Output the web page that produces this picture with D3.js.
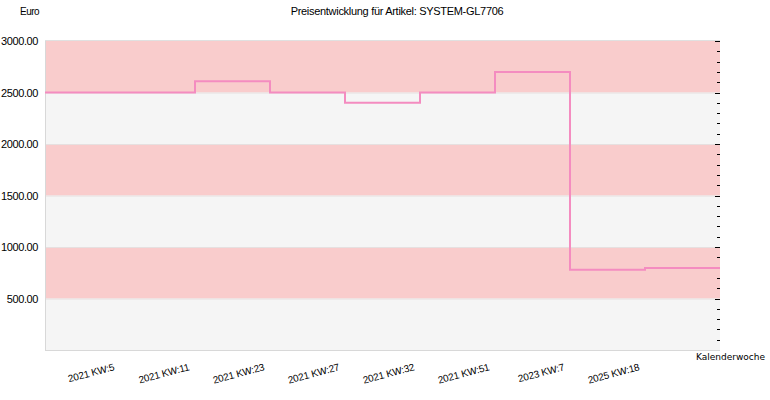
<!DOCTYPE html>
<html><head><meta charset="utf-8">
<script src="https://cdn.jsdelivr.net/npm/d3@7"></script>
<style>body{margin:0;background:#fff}svg{display:block}</style>
</head><body>
<svg id="c" width="770" height="400"></svg>
<script>
const title = "Preisentwicklung für Artikel: SYSTEM-GL7706";
const yTitle = "Euro";
const xTitle = "Kalenderwoche";
const categories = ["2021 KW:5","2021 KW:11","2021 KW:23","2021 KW:27","2021 KW:32","2021 KW:51","2023 KW:7","2025 KW:18"];
const prices = [2500, 2610, 2500, 2400, 2500, 2700, 780, 795];
const yTicks = [500, 1000, 1500, 2000, 2500, 3000];

const svg = d3.select("#c");
const L = 45, R = 720, T = 41, B = 350;
const font = "'Liberation Sans', Arial, sans-serif";

const x = d3.scaleLinear().domain([-1, categories.length]).range([L, R]);
const y = d3.scaleLinear().domain([0, 3000]).range([B, T]);

// bands
const bandEdges = d3.range(0, 3000, 500);
svg.append("g").selectAll("rect").data(bandEdges).join("rect")
  .attr("x", L).attr("width", R - L)
  .attr("y", d => y(d + 500)).attr("height", d => y(d) - y(d + 500))
  .attr("fill", (d, i) => i % 2 === 0 ? "#f5f5f5" : "#f9cccc");

// grid separators (light)
svg.append("g").selectAll("line").data(yTicks.slice(0, -1)).join("line")
  .attr("x1", L).attr("x2", R).attr("y1", d => y(d) + 0.5).attr("y2", d => y(d) + 0.5)
  .attr("stroke", "#e6e0e0").attr("stroke-width", 1);

// frame lines
svg.append("line").attr("x1", L + 0.5).attr("x2", L + 0.5).attr("y1", T).attr("y2", B)
  .attr("stroke", "#d8d8d8");
svg.append("line").attr("x1", L).attr("x2", R).attr("y1", B + 0.5).attr("y2", B + 0.5)
  .attr("stroke", "#d8d8d8");
svg.append("line").attr("x1", L).attr("x2", R).attr("y1", T - 0.5).attr("y2", T - 0.5)
  .attr("stroke", "#e0e0e0");

// right ticks
const minor = d3.range(100, 3001, 100);
svg.append("g").selectAll("line").data(minor).join("line")
  .attr("x1", d => d % 500 === 0 ? R - 5 : R - 3).attr("x2", R)
  .attr("y1", d => Math.round(y(d)) + 0.5).attr("y2", d => Math.round(y(d)) + 0.5)
  .attr("stroke", "#000").attr("stroke-width", 1);

// y axis labels
const yAxis = d3.axisLeft(y).tickValues(yTicks).tickFormat(d3.format(".2f")).tickSize(0).tickPadding(7);
const gy = svg.append("g").attr("transform", `translate(${L},0)`).call(yAxis);
gy.select(".domain").remove();
gy.selectAll("text").attr("font-family", font).attr("font-size", 11).attr("fill", "#000")
  .attr("letter-spacing", "-0.4").attr("dy", "0.35em");

// x axis labels
const gx = svg.append("g");
gx.selectAll("text").data(categories).join("text")
  .attr("transform", (d, i) => `translate(${x(i) - 5},${370}) rotate(-15)`)
  .attr("text-anchor", "end")
  .attr("font-family", font).attr("font-size", 10).attr("fill", "#000")
  .attr("letter-spacing", "-0.2")
  .text(d => d);

// step line
const pts = [[-1, prices[0]]].concat(prices.map((v, i) => [i, v]), [[categories.length, prices[prices.length - 1]]]);
const line = d3.line().x(d => x(d[0])).y(d => y(d[1])).curve(d3.curveStepAfter);
svg.append("path").datum(pts).attr("d", line)
  .attr("fill", "none").attr("stroke", "#f48cc0").attr("stroke-width", 2);

// titles
svg.append("text").attr("x", 397).attr("y", 15).attr("text-anchor", "middle")
  .attr("font-family", font).attr("font-size", 11).attr("letter-spacing", "-0.3").text(title);
svg.append("text").attr("x", 20).attr("y", 15)
  .attr("font-family", font).attr("font-size", 10).attr("letter-spacing", "-0.5").text(yTitle);
svg.append("text").attr("x", 765).attr("y", 360).attr("text-anchor", "end")
  .attr("font-family", "'DejaVu Sans', sans-serif").attr("font-size", 9).text(xTitle);
</script>
</body></html>
